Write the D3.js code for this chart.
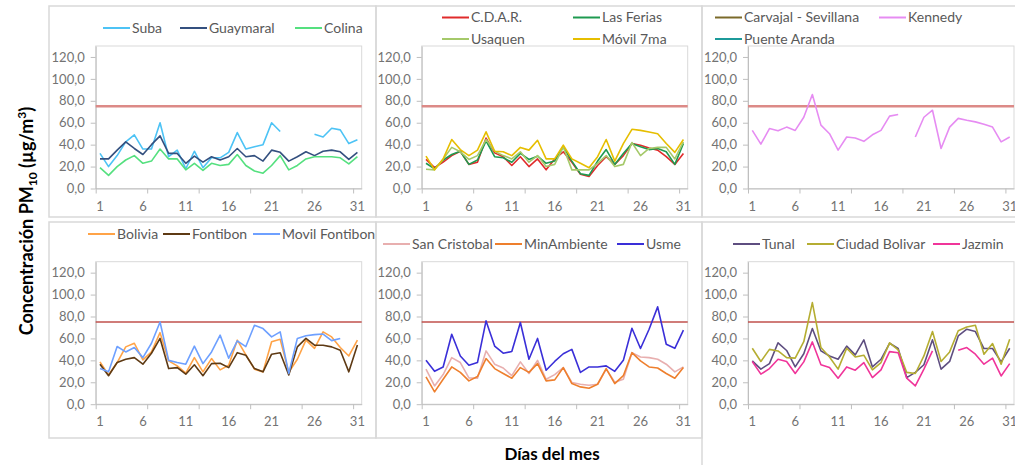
<!DOCTYPE html>
<html>
<head>
<meta charset="utf-8">
<script src="https://cdnjs.cloudflare.com/ajax/libs/d3/7.8.5/d3.min.js"></script>
<style>
body { margin: 0; background: #fff; }
svg { display: block; font-family: Lato, "Liberation Sans", sans-serif; }
</style>
</head>
<body>
<script>
// categories and ticks
var days = [1,2,3,4,5,6,7,8,9,10,11,12,13,14,15,16,17,18,19,20,21,22,23,24,25,26,27,28,29,30,31];
var xLabels = [1,6,11,16,21,26,31];
var xMarks = [0,6,12,18,24,30];
var yTicks = [0,20,40,60,80,100,120];
var yMax = 130;
var limit = 75;

// daily PM10 by station (null = no data)
var suba = [32,20,30,42.5,49,36,36,60,29,35, 18,34,19,28,28,33,51,36,38,40, 60,52,null,null,null,49.5,47,55,53.5,41,44.5];
var guaymaral = [27,27,35,42.5,36.5,31,40,48,32,32, 23,29.5,24,29,26,29,36.5,29,30,25, 35,33,25,29,33.5,30,34,35,33.5,26.5,33];
var colina = [19,12,20,26,30,23,25,36,27,27, 17,23,16.5,23,21,22,31,21,16,14, 21,30,17,21,27,29,29,29,28,22.5,29];

var cdar = [26.5,19,24,30,34,22,24,46,32.5,29, 21,29,20,27,17,27,33.5,24,13,11, 21,29,22,30,41,39.5,37,35,29,22,32];
var lasFerias = [23,18,26,31,34,22,26,43.5,29,28, 24,32,26.5,29.5,23,25,38,25,13.5,12, 25,35.5,22,32,41,38,35.5,36.5,33.5,22,41];
var usaquen = [17.5,17,27,37.5,33.5,26.5,30,44.7,34,30, 27,33.5,24,30,20,22,38,17,17,17, 23,30,20,22,42,30,36.5,37.5,37.5,27,42.5];
var movil7ma = [29.5,17,27,44.7,35.5,30,35,51.7,34,33.5, 30,37.5,35,44,27,27,39.5,27,23,19, 29,44.7,25,41,54,53,51.5,50,41,33,44.7];

var carvajal = [];
var kennedy = [53,40.5,54.7,52.6,56,53,65,85.7,57.8,50, 35,47,46,43,49,53,66,67.5,null,47, 65,71.4,36.5,56,64,62.3,60.8,58.7,56,42.5,47];
var puenteAranda = [];

var bolivia = [38.6,26.7,38,52.3,55.6,40.4,47.7,65.3,39.5,35, 28.3,42.5,29.5,41.6,31.3,35.6,58.4,45,32,29.5, 57,59.3,29,41,58.4,51,66,61.4,51.7,44,58.4];
var fontibon = [36.5,26,38,41,42.5,36.5,46.5,60,32.5,33.4, 27.4,36,26,37,37.4,33.4,47,44.7,32.5,29.5, 45.6,47,26.7,52.3,60,53.8,53.8,52.3,49.2,29.5,54];
var movilFontibon = [32.5,29.5,52.6,47.7,51.7,42.5,55.6,75,40,38, 36.5,53,37,47.7,63,42,57.8,52.6,72,69, 61.4,66,28,60,62.5,63.5,64,58,60,null,null];

var sanCristobal = [32,16.7,27,42.5,38,24,23.7,48.6,36.5,33, 26,38.6,28,40,22.8,27,33.4,19.8,18.2,17.3, 18.2,32,20,22.8,47,43,42.5,41,36.5,29.5,34];
var minAmbiente = [25,11.2,22.8,34,29,21.3,25.2,41.6,32.5,28, 23.7,33.4,29,37,21.3,22.2,33.4,18.8,15.8,14.6, 18.2,32.5,18.8,26,47,39.5,34,33,28,23.7,33.4];
var usme = [40,30,34,63.8,44,35.5,38,76,53,46.5, 48,74.5,41,60,31,39,46,50,29,34, 34,35,30,40,69.3,50.8,68.4,88.8,54.7,51,67.5];

var tunal = [39.5,32,37,56,49,34,46,69,48.6,44, 41,53,45,58.7,34,41,55.6,50.8,24.3,29, 36,58.7,32,39,62.3,68.4,66.3,50.8,50.8,38.6,51];
var ciudadBolivar = [51,39,50,48.6,42.5,42,57,92.7,51.7,43, 32,51,43,44.7,31.3,38,56,49.5,29,28, 44,66.3,39,47.7,67,70.5,72,45.6,55.3,36.5,59.3];
var jazmin = [39,27.4,32.5,41,39,28,38.6,56.8,36,33.4, 23.7,34,31,38,24.3,31.3,48,47,23.7,16.7, 32,48.6,null,null,49.2,51.7,45.6,36.5,42,25.8,37];

// layout
var plotLefts = [95.7, 421.7, 748];
var plotTops = [46, 261.7];
var plotW = 266, plotH = 142.5;
var borderX = [49, 376, 702];
var borderY = [[6, 217], [222, 438]];

var panels = [
  {col: 0, row: 0, series: [
    {name: "Suba", values: suba, color: "#4dc3f5", lx: 103, ly: 28},
    {name: "Guaymaral", values: guaymaral, color: "#34507f", lx: 180, ly: 28},
    {name: "Colina", values: colina, color: "#55e07f", lx: 295, ly: 28}]},
  {col: 1, row: 0, series: [
    {name: "C.D.A.R.", values: cdar, color: "#e02b2b", lx: 442, ly: 17.5},
    {name: "Las Ferias", values: lasFerias, color: "#1e9a50", lx: 573, ly: 17.5},
    {name: "Usaquen", values: usaquen, color: "#a5c96a", lx: 442, ly: 39},
    {name: "Móvil 7ma", values: movil7ma, color: "#e6be00", lx: 573, ly: 39}]},
  {col: 2, row: 0, series: [
    {name: "Carvajal - Sevillana", values: carvajal, color: "#7b6a2a", lx: 715, ly: 17.5},
    {name: "Kennedy", values: kennedy, color: "#e68cf2", lx: 879, ly: 17.5},
    {name: "Puente Aranda", values: puenteAranda, color: "#1c9a9a", lx: 715, ly: 39}]},
  {col: 0, row: 1, series: [
    {name: "Bolivia", values: bolivia, color: "#ffa347", lx: 88, ly: 234},
    {name: "Fontibon", values: fontibon, color: "#5e3a14", lx: 163, ly: 234},
    {name: "Movil Fontibon", values: movilFontibon, color: "#6ea0ff", lx: 253, ly: 234}]},
  {col: 1, row: 1, series: [
    {name: "San Cristobal", values: sanCristobal, color: "#e8afaf", lx: 383, ly: 244},
    {name: "MinAmbiente", values: minAmbiente, color: "#ee7f2d", lx: 495, ly: 244},
    {name: "Usme", values: usme, color: "#3a2fd8", lx: 617, ly: 244}]},
  {col: 2, row: 1, series: [
    {name: "Tunal", values: tunal, color: "#5e4e80", lx: 733, ly: 244},
    {name: "Ciudad Bolivar", values: ciudadBolivar, color: "#b5ad32", lx: 807, ly: 244},
    {name: "Jazmin", values: jazmin, color: "#f0359a", lx: 933, ly: 244}]}
];

var svg = d3.select("body").append("svg")
    .attr("width", 1015)
    .attr("height", 465);

var x = d3.scaleBand().domain(days).range([0, plotW]);
var xEdge = d3.scaleLinear().domain([0, days.length]).range([0, plotW]);
var y = d3.scaleLinear().domain([0, yMax]).range([plotH, 0]);
var fmt = function(v){ return d3.format(".1f")(v).replace(".", ","); };

var line = d3.line()
    .defined(function(d){ return d !== null; })
    .x(function(d, i){ return x(days[i]) + x.bandwidth() / 2; })
    .y(function(d){ return y(d); });

// panel frames
panels.forEach(function(p){
  var b = borderY[p.row];
  var bottom = (p.col === 2 && p.row === 1) ? 480 : b[1];
  svg.append("rect")
    .attr("x", borderX[p.col])
    .attr("y", b[0])
    .attr("width", p.col === 2 ? 400 : borderX[p.col + 1] - borderX[p.col])
    .attr("height", bottom - b[0])
    .attr("fill", "none")
    .attr("stroke", "#d9d9d9")
    .attr("stroke-width", 1.5);
});

panels.forEach(function(p){
  var g = svg.append("g")
    .attr("transform", "translate(" + plotLefts[p.col] + "," + plotTops[p.row] + ")");

  g.append("rect")
    .attr("width", plotW)
    .attr("height", plotH)
    .attr("fill", "none")
    .attr("stroke", "#d9d9d9");

  var yAxis = g.append("g")
    .call(d3.axisLeft(y).tickValues(yTicks).tickSize(5).tickSizeOuter(0).tickPadding(6).tickFormat(fmt));

  var xTicks = g.append("g")
    .attr("transform", "translate(0," + plotH + ")")
    .call(d3.axisBottom(xEdge).tickValues(xMarks).tickSize(5).tickSizeOuter(0).tickFormat(""));

  var xAxis = g.append("g")
    .attr("transform", "translate(0," + plotH + ")")
    .call(d3.axisBottom(x).tickValues(xLabels).tickSize(0).tickPadding(13));
  xAxis.select(".domain").remove();

  [yAxis, xTicks].forEach(function(a){
    a.selectAll(".domain, line").attr("stroke", "#bfbfbf");
  });
  [yAxis, xAxis].forEach(function(a){
    a.selectAll("text")
      .attr("fill", "#737373")
      .style("font-family", "Lato, sans-serif")
      .style("font-size", "13px");
  });

  // norm line
  g.append("line")
    .attr("x1", 0)
    .attr("x2", plotW)
    .attr("y1", y(limit))
    .attr("y2", y(limit))
    .attr("stroke", p.row === 0 ? "#dc8a87" : "#c0504d")
    .attr("stroke-width", p.row === 0 ? 2.4 : 1.3);

  p.series.forEach(function(s){
    if (!s.values.length) return;
    g.append("path")
      .datum(s.values)
      .attr("d", line)
      .attr("fill", "none")
      .attr("stroke", s.color)
      .attr("stroke-width", 1.6)
      .attr("stroke-linejoin", "round");
  });

  // legend
  p.series.forEach(function(s){
    svg.append("line")
      .attr("x1", s.lx)
      .attr("x2", s.lx + 27)
      .attr("y1", s.ly)
      .attr("y2", s.ly)
      .attr("stroke", s.color)
      .attr("stroke-width", 2);
    svg.append("text")
      .attr("x", s.lx + 29)
      .attr("y", s.ly)
      .attr("dy", "0.35em")
      .attr("fill", "#595959")
      .style("font-size", "14px")
      .text(s.name);
  });
});

// axis titles
var yTitle = svg.append("text")
    .attr("transform", "translate(33,221) rotate(-90)")
    .attr("text-anchor", "middle")
    .attr("fill", "#000")
    .style("font-size", "18px")
    .style("font-weight", "bold");
yTitle.append("tspan").text("Concentración PM");
yTitle.append("tspan").attr("dy", 4).style("font-size", "12px").text("10");
yTitle.append("tspan").attr("dy", -4).text(" (µg/m");
yTitle.append("tspan").attr("dy", -7).style("font-size", "12px").text("3");
yTitle.append("tspan").attr("dy", 7).text(")");

svg.append("text")
    .attr("x", 552)
    .attr("y", 460)
    .attr("text-anchor", "middle")
    .attr("fill", "#000")
    .style("font-size", "17px")
    .style("font-weight", "bold")
    .text("Días del mes");
</script>
</body>
</html>
